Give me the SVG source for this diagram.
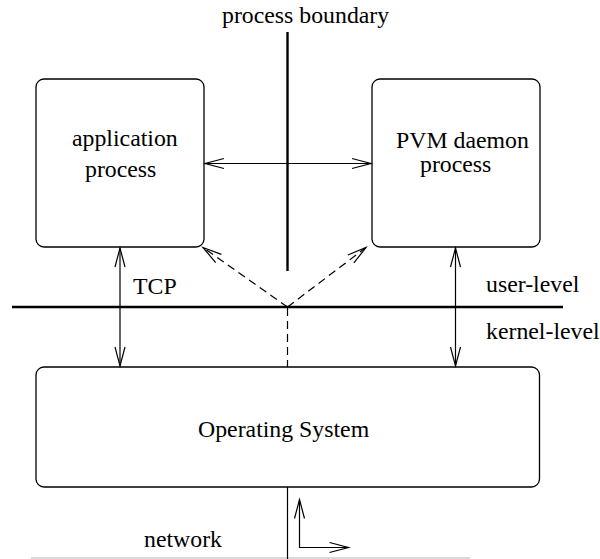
<svg xmlns="http://www.w3.org/2000/svg" width="600" height="559" viewBox="0 0 600 559">
<style>
.box{fill:none;stroke:#000;stroke-width:1.3}
.c{fill:none;stroke:#000;stroke-width:1.2}
.thick{fill:none;stroke:#000;stroke-width:2.4}
.d{fill:none;stroke:#000;stroke-width:1.2;stroke-dasharray:8 5}
</style>
<defs>
<marker id="ah" markerUnits="userSpaceOnUse" orient="auto-start-reverse" markerWidth="24" markerHeight="12" viewBox="-20 -6 24 12" refX="0" refY="0" overflow="visible">
<path d="M-19,-5 L0,0 L-19,5" fill="none" stroke="#000" stroke-width="1.2"/>
</marker>
</defs>
<rect width="600" height="559" fill="#fff"/>
<g font-family="Liberation Serif, serif" font-size="23.8" fill="#000">
<g id="boundary">
<line class="thick" x1="287.5" y1="32" x2="287.5" y2="271"/>
<text x="222" y="23">process boundary</text>
</g>
<g id="level-line">
<line class="thick" x1="12" y1="307" x2="563" y2="307"/>
<text x="486" y="292">user-level</text>
<text x="486" y="339">kernel-level</text>
</g>
<g id="app">
<rect class="box" x="36" y="79" width="168" height="168" rx="8"/>
<text x="72" y="146">application</text>
<text x="85" y="177">process</text>
</g>
<g id="pvmd">
<rect class="box" x="372" y="79" width="168" height="168" rx="8"/>
<text x="396" y="148">PVM daemon</text>
<text x="420" y="172">process</text>
</g>
<g id="os">
<rect class="box" x="36" y="367" width="503.5" height="120" rx="8"/>
<text x="198" y="437">Operating System</text>
</g>
<g id="net">
<line x1="31" y1="558" x2="470" y2="558" stroke="#ccc" stroke-width="1.5"/>
<text x="144" y="547">network</text>
</g>
<g id="connectors">
<line class="c" x1="205" y1="163.5" x2="371" y2="163.5" marker-start="url(#ah)" marker-end="url(#ah)"/>
<line class="c" x1="120" y1="248" x2="120" y2="366" marker-start="url(#ah)" marker-end="url(#ah)"/>
<line class="c" x1="455.5" y1="248" x2="455.5" y2="366" marker-start="url(#ah)" marker-end="url(#ah)"/>
<text x="133" y="294">TCP</text>
<line class="d" x1="287.5" y1="307" x2="203" y2="247.5" marker-end="url(#ah)"/>
<line class="d" x1="287.5" y1="307" x2="366" y2="247.5" marker-end="url(#ah)"/>
<line class="d" x1="287.5" y1="308" x2="287.5" y2="367"/>
<line class="c" x1="287.5" y1="487" x2="287.5" y2="559"/>
<path class="c" d="M299.5,499.5 L299.5,547.5 L348.5,547.5" marker-start="url(#ah)" marker-end="url(#ah)"/>
</g>
</g>
</svg>
